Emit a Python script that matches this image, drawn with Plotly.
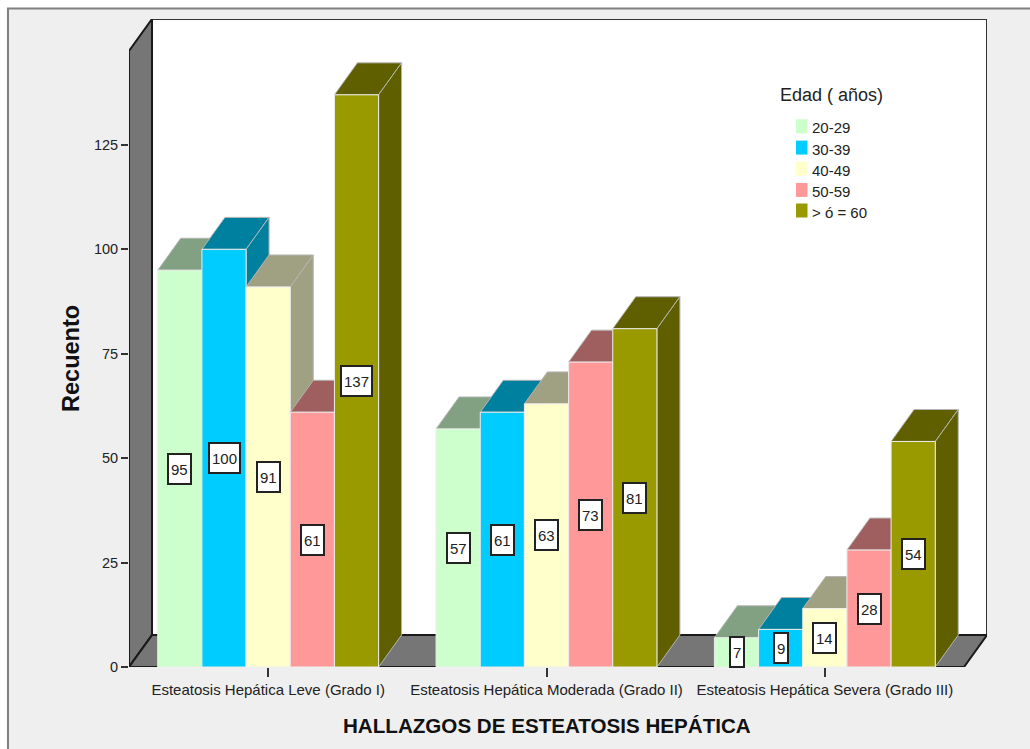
import plotly.graph_objects as go

# Recuentos por hallazgo y grupo de edad
categories = ["Esteatosis Hepática Leve (Grado I)",
              "Esteatosis Hepática Moderada (Grado II)",
              "Esteatosis Hepática Severa (Grado III)"]
age_groups = ["20-29", "30-39", "40-49", "50-59", "> ó = 60"]
counts_20_29 = [95, 57, 7]
counts_30_39 = [100, 61, 9]
counts_40_49 = [91, 63, 14]
counts_50_59 = [61, 73, 28]
counts_60_plus = [137, 81, 54]
y_ticks = [0, 25, 50, 75, 100, 125]

series = [counts_20_29, counts_30_39, counts_40_49, counts_50_59, counts_60_plus]
front_colors = ["#CCFFCC", "#00CCFF", "#FFFFCC", "#FF9999", "#999900"]
shade_colors = ["#82A082", "#00809F", "#A0A082", "#A05F5F", "#5F5F00"]

# Geometria de la caja 3D, en unidades de los ejes
BAR_W = 0.1587
DEPTH_X = 0.0826
DEPTH_Y = 7.65
X_LEFT, X_RIGHT = -0.5, 2.5
Y_TOP = 147.5
WALL = "#767676"

W, H = 1030, 749
M_L, M_R, M_T, M_B = 129, 43, 18.5, 81.5


def paper_x(px):
    return (px - M_L) / (W - M_L - M_R)


def paper_y(py):
    return (H - M_B - py) / (H - M_T - M_B)


fig = go.Figure()


def face(xs, ys, fill, line, width=1):
    fig.add_trace(go.Scatter(
        x=xs + xs[:1], y=ys + ys[:1], mode="lines", fill="toself",
        fillcolor=fill, line=dict(color=line, width=width),
        hoverinfo="skip", showlegend=False, cliponaxis=False))


# Paredes y suelo
face([X_LEFT + DEPTH_X, X_RIGHT + DEPTH_X, X_RIGHT + DEPTH_X, X_LEFT + DEPTH_X],
     [DEPTH_Y, DEPTH_Y, Y_TOP + DEPTH_Y, Y_TOP + DEPTH_Y], "#FFFFFF", "#333333", 2)
face([X_LEFT, X_LEFT + DEPTH_X, X_LEFT + DEPTH_X, X_LEFT],
     [0, DEPTH_Y, Y_TOP + DEPTH_Y, Y_TOP], WALL, "#1A1A1A", 2)
face([X_LEFT, X_RIGHT, X_RIGHT + DEPTH_X, X_LEFT + DEPTH_X],
     [0, 0, DEPTH_Y, DEPTH_Y], WALL, "#1A1A1A", 2)

# Barras: cara superior, lateral y frontal, de izquierda a derecha
annotations = []
for g in range(len(categories)):
    for s, values in enumerate(series):
        v = values[g]
        x0 = g + (s - 2.5) * BAR_W
        x1 = x0 + BAR_W
        face([x0, x1, x1 + DEPTH_X, x0 + DEPTH_X],
             [v, v, v + DEPTH_Y, v + DEPTH_Y], shade_colors[s], "#B5B5B5", 1)
        face([x1, x1 + DEPTH_X, x1 + DEPTH_X, x1],
             [0, DEPTH_Y, v + DEPTH_Y, v], shade_colors[s], "#B5B5B5", 1)
        face([x0, x1, x1, x0], [0, 0, v, v], front_colors[s], "#EDEDED", 1)
        annotations.append(dict(
            x=(x0 + x1) / 2, y=v / 2, xref="x", yref="y", text=str(v),
            showarrow=False, bgcolor="#FFFFFF", bordercolor="#222222",
            borderwidth=2, borderpad=2, height=24,
            font=dict(family="Liberation Sans", size=15, color="#222222")))

# Leyenda: titulo, muestras de color y etiquetas
LEGEND_ROWS_PX = [126, 147.3, 168.4, 189.7, 210.3]
annotations.append(dict(
    x=paper_x(777.5), y=paper_y(95), xref="paper", yref="paper",
    xanchor="left", yanchor="middle",
    text="Edad ( años)", showarrow=False,
    font=dict(family="Liberation Sans", size=18, color="#222222")))
legend_shapes = []
for name, color, row in zip(age_groups, front_colors, LEGEND_ROWS_PX):
    legend_shapes.append(dict(
        type="rect", xref="paper", yref="paper",
        x0=paper_x(796), x1=paper_x(807.5), y0=paper_y(row + 7), y1=paper_y(row - 7),
        fillcolor=color, line=dict(width=0)))
    annotations.append(dict(
        x=paper_x(810), y=paper_y(row + 1.5), xref="paper", yref="paper",
        xanchor="left", yanchor="middle",
        text=name, showarrow=False,
        font=dict(family="Liberation Sans", size=15, color="#222222")))

annotations.append(dict(
    x=1, y=-0.1115, xref="x", yref="paper", xanchor="center",
    text="<b>HALLAZGOS DE ESTEATOSIS HEPÁTICA</b>", showarrow=False,
    font=dict(family="Liberation Sans", size=20.6, color="#111111")))
annotations.append(dict(
    x=paper_x(71), y=Y_TOP / 2, xref="paper", yref="y", xanchor="center",
    text="<b>Recuento</b>", textangle=-90, showarrow=False,
    font=dict(family="Liberation Sans", size=23.5, color="#111111")))

# Fondo gris con el marco exterior
frame = dict(type="rect", xref="paper", yref="paper", layer="below",
             x0=paper_x(8), x1=paper_x(1040), y0=paper_y(760), y1=paper_y(8),
             fillcolor="#EFEFEF", line=dict(color="#808080", width=2))

fig.update_layout(
    width=W, height=H,
    margin=dict(l=M_L, r=M_R, t=M_T, b=M_B, autoexpand=False),
    paper_bgcolor="#FFFFFF", plot_bgcolor="rgba(0,0,0,0)",
    font=dict(family="Liberation Sans", color="#222222"),
    shapes=[frame] + legend_shapes, annotations=annotations,
    hovermode=False, showlegend=False,
    xaxis=dict(
        range=[X_LEFT, X_RIGHT + DEPTH_X], tickvals=[0, 1, 2], ticktext=categories,
        ticks="outside", ticklen=9, tickwidth=1.5, tickcolor="#333333",
        showgrid=False, zeroline=False, showline=False,
        tickfont=dict(size=15, color="#222222")),
    yaxis=dict(
        range=[0, Y_TOP + DEPTH_Y], tickvals=y_ticks,
        ticks="outside", ticklen=7, tickwidth=1.5, tickcolor="#333333",
        showgrid=False, zeroline=False, showline=False,
        tickfont=dict(size=14.5, color="#222222")),
)

fig.write_html("out.html")
